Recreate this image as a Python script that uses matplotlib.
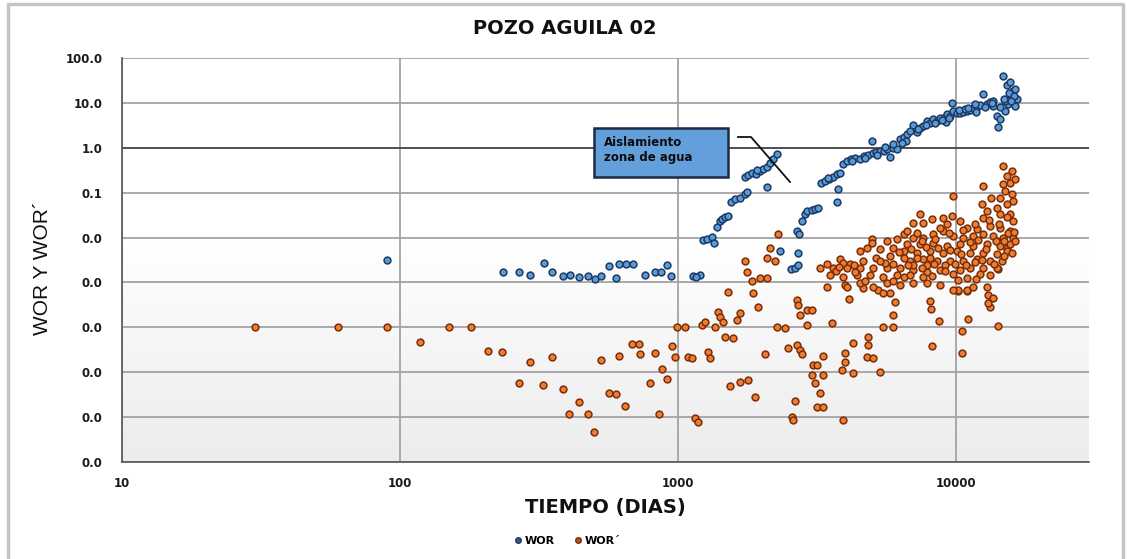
import numpy as np
import matplotlib.pyplot as plt
from matplotlib.patches import Rectangle
from matplotlib.lines import Line2D
from matplotlib.ticker import FixedLocator, FuncFormatter, NullLocator
from matplotlib.colors import LinearSegmentedColormap

# WOR - relacion agua/petroleo
wor_dias = [90, 235, 268, 294, 330, 352, 386, 409, 441, 475, 503, 529, 565, 599, 614,
            651, 689, 761, 827, 869, 914, 945, 1132, 1200, 1160,
            1230, 1270, 1325, 1350, 1380, 1415, 1440, 1475, 1513, 1550, 1600, 1670, 1740,
            1770, 1740, 1786, 1846, 1900, 1970, 2020, 2090, 2140, 2200, 2270, 2090, 1925,
            2330, 2703, 2550, 2620, 2703,
            2680, 2725, 2795, 2860, 2910, 3035, 3110, 3190, 3270, 3380, 3495, 3600, 3735,
            3830, 3760, 3735,
            3924, 4056, 4193, 4335, 4518, 4670, 4828, 4990, 5030, 5160,
            5333, 5510, 5650, 5793, 5940, 6140, 6293, 6460, 6670, 6840,
            7010, 7245, 7428, 7615, 7873, 8070, 8274, 8552, 8767, 9070,
            9290, 9524, 9680, 9760, 10080, 10340, 10600, 10950, 11230, 11510,
            11900, 12200, 12510, 12930, 13260, 13590, 14040, 14160, 14400, 14760,
            15010, 15260, 15380, 15640, 15640, 16000, 16300, 16550, 15900, 15010,
            14400, 16300,
            5560, 6570, 9200, 10780, 11700, 13590,
            5200, 5900, 6400, 7300, 7800, 8400, 8900, 9400, 10200, 11000,
            11800, 12700, 13400, 14800, 15500, 16100, 15700, 4200, 4700, 3450]
wor = [0.0031, 0.00175, 0.00167, 0.0015, 0.00278, 0.00167, 0.00136, 0.00143, 0.00129,
       0.00136, 0.00117, 0.00136, 0.00227, 0.00123, 0.00264, 0.00264, 0.00264, 0.0015,
       0.00175, 0.00167, 0.00239, 0.00136, 0.00136, 0.00143, 0.00129,
       0.0086, 0.0095, 0.0105, 0.0077, 0.0175, 0.0239, 0.0264, 0.0293, 0.0308, 0.0631,
       0.0736, 0.0774, 0.095, 0.105, 0.227, 0.251, 0.278, 0.264, 0.308, 0.341, 0.378,
       0.464, 0.570, 0.736, 0.136, 0.324,
       0.0049, 0.0046, 0.00204, 0.00215, 0.00239,
       0.0143, 0.0117, 0.0239, 0.0341, 0.0398, 0.0419, 0.0441, 0.0464, 0.167, 0.185,
       0.2045, 0.227, 0.264, 0.278, 0.1227, 0.0631,
       0.441, 0.514, 0.57, 0.599, 0.57, 0.664, 0.699, 1.43, 0.774, 0.815,
       0.858, 0.858, 0.95, 0.631, 1.0, 0.95, 1.585, 1.754, 2.045, 2.39,
       3.25, 2.27, 2.79, 3.09, 3.98, 3.59, 4.41, 3.98, 4.65, 4.89,
       5.70, 5.15, 10.0, 6.64, 5.99, 5.99, 6.31, 6.64, 6.99, 7.74,
       8.15, 9.03, 15.8, 9.5, 10.5, 11.1, 5.14, 2.93, 4.41, 39.8,
       6.64, 25.1, 9.5, 29.3, 15.8, 18.5, 20.5, 12.3, 13.5, 11.0,
       8.15, 8.6,
       1.05, 1.43, 3.8, 7.3, 9.5, 8.6,
       0.70, 1.2, 1.25, 2.6, 3.2, 3.5, 4.2, 4.6, 6.8, 7.8,
       6.4, 8.0, 9.8, 12.5, 17.0, 14.5, 10.8, 0.52, 0.60, 0.21]

# WOR' (derivada) - puntos dispersos
wor_p_disperso = [
    (30, 1e-4), (60, 1e-4), (90, 1e-4), (150, 1e-4), (180, 1e-4),
    (118, 4.64e-5), (207, 2.93e-5), (233, 2.78e-5), (294, 1.67e-5), (352, 2.15e-5),
    (268, 5.7e-6), (327, 5.14e-6), (386, 4.19e-6), (441, 2.15e-6), (406, 1.17e-6),
    (475, 1.17e-6), (499, 4.64e-7),
    (529, 1.85e-5), (565, 3.41e-6), (599, 3.24e-6), (646, 1.75e-6), (614, 2.27e-5),
    (684, 4.19e-5), (720, 4.19e-5), (731, 2.51e-5), (827, 2.64e-5),
    (877, 1.17e-5), (794, 5.7e-6), (914, 6.99e-6), (855, 1.17e-6), (952, 3.78e-5),
    (975, 2.15e-5), (990, 1e-4),
    (1060, 1e-4), (1086, 2.15e-5), (1123, 2.04e-5), (1220, 1.11e-4), (1250, 1.29e-4),
    (1282, 2.78e-5), (1305, 2.04e-5), (1360, 1e-4), (1393, 2.15e-4), (1416, 1.67e-4),
    (1452, 1.29e-4), (1476, 5.99e-5), (1577, 5.7e-5),
    (1539, 4.89e-6), (1671, 5.99e-6), (1786, 6.64e-6), (1890, 2.78e-6), (1151, 9.5e-7),
    (1180, 7.74e-7),
    (1513, 5.99e-4), (1630, 1.43e-4), (1671, 2.05e-4), (1742, 3.08e-3), (1770, 1.75e-3),
    (1846, 1.05e-3), (1862, 5.7e-4), (1940, 2.78e-4), (1972, 1.23e-3), (2090, 1.23e-3),
    (2140, 5.99e-3), (2090, 3.59e-3), (2230, 3.08e-3), (2290, 1.23e-2),
    (2055, 2.51e-5), (2270, 1e-4), (2425, 9.5e-5), (2488, 3.41e-5), (2680, 3.98e-5),
    (2745, 3.08e-5), (2795, 2.51e-5), (2635, 2.27e-6), (2570, 1e-6), (2590, 8.6e-7),
    (2680, 3.98e-4), (2700, 3.08e-4), (2745, 1.85e-4), (2910, 2.39e-4), (3035, 2.39e-4),
    (2910, 1.11e-4), (3060, 1.43e-5), (3160, 1.43e-5), (3035, 8.58e-6), (3325, 8.58e-6),
    (3110, 5.7e-6), (3240, 3.41e-6), (3160, 1.67e-6), (3325, 1.67e-6), (3325, 2.27e-5),
    (3570, 1.23e-4),
    (3240, 2.15e-3), (3430, 2.64e-3), (3600, 2.15e-3), (3830, 3.41e-3), (3924, 2.78e-3),
    (3990, 2.64e-5), (3990, 1.67e-5), (3890, 1.11e-5), (4264, 4.41e-5), (4264, 9.5e-6),
    (3924, 8.58e-7), (4124, 4.19e-4), (3990, 8.58e-4), (3520, 1.43e-3),
    (4828, 5.99e-5), (4828, 3.98e-5), (4790, 2.15e-5), (5030, 2.04e-5), (5333, 1e-5),
    (4630, 7.36e-4), (5245, 6.64e-4), (5470, 5.7e-4), (5793, 5.7e-4), (6040, 3.59e-4),
    (5940, 1.85e-4), (5470, 1e-4), (5940, 1e-4),
    (8070, 3.78e-4), (8140, 2.51e-4), (8690, 1.36e-4), (8200, 3.78e-5), (10170, 6.31e-4),
    (10950, 6.31e-4), (11040, 1.51e-4), (10500, 8.15e-5), (10500, 2.64e-5),
    (12930, 7.74e-4), (13040, 5.14e-4), (13590, 4.41e-4), (13260, 2.78e-4),
    (14160, 1.05e-4), (14160, 1.95e-3), (15260, 5.99e-3),
]

# WOR' (derivada) - nube densa despues de ~4000 dias
wor_p_denso = [
    (14760, 0.398), (15260, 0.239), (15640, 0.167), (14760, 0.158), (12510, 0.143),
    (9760, 0.0858), (15900, 0.095), (14400, 0.0774), (12400, 0.057), (15260, 0.057),
    (16000, 0.0664), (12930, 0.0398), (14400, 0.0341), (15640, 0.0341), (16000, 0.0239),
    (12510, 0.0278), (7430, 0.0341), (7615, 0.0215), (7010, 0.0215), (8200, 0.0264),
    (8990, 0.0278), (9680, 0.0308), (10340, 0.0239), (9290, 0.0204), (10950, 0.0167),
    (11900, 0.0158), (13260, 0.0185), (14400, 0.0167), (15640, 0.0143), (16000, 0.01),
    (14760, 0.01), (13590, 0.0111), (12510, 0.0123), (11510, 0.0111), (10600, 0.01),
    (9760, 0.0111), (8990, 0.0143), (8274, 0.0123), (7615, 0.01), (7010, 0.01),
    (6460, 0.0123), (6670, 0.00736), (7430, 0.00736), (8274, 0.00774), (9290, 0.00664),
    (10340, 0.00736), (11510, 0.00664), (12930, 0.00736), (14400, 0.00664),
    (15640, 0.00736), (15260, 0.00514), (14040, 0.00441), (12510, 0.00464),
    (11230, 0.00464), (10080, 0.00514), (8990, 0.00464), (8070, 0.00514), (7245, 0.00464),
    (6460, 0.00514), (6840, 0.00308), (7615, 0.00341), (8552, 0.00308), (9524, 0.00308),
    (10600, 0.00308), (11900, 0.00341), (13260, 0.00308), (14560, 0.00308),
    (14040, 0.00205), (12510, 0.00215), (11230, 0.00205), (10340, 0.00185),
    (9760, 0.00158), (8767, 0.00185), (7873, 0.00167), (7010, 0.00185), (6460, 0.00129),
    (7615, 0.00129), (8767, 0.000858), (10170, 0.00111), (10950, 0.00123),
    (12200, 0.00158), (13260, 0.00143), (10170, 0.000664), (10950, 0.000664),
    (13040, 0.000341),
    (6670, 0.0143), (7245, 0.0129), (8767, 0.0167), (6140, 0.0095), (5650, 0.00858),
    (4990, 0.0095), (4990, 0.00774), (4790, 0.00599), (4518, 0.00514), (5333, 0.0057),
    (5940, 0.00599), (4160, 0.00264), (4630, 0.00308), (5160, 0.00359), (5793, 0.00398),
    (6460, 0.00359), (7245, 0.00359), (8070, 0.00359), (4056, 0.00205), (4518, 0.00215),
    (5030, 0.00215), (5650, 0.00215), (6293, 0.00215), (7010, 0.00239), (7873, 0.00239),
    (3924, 0.00129), (4400, 0.00143), (4900, 0.00143), (5470, 0.00129), (6140, 0.00143),
    (6840, 0.00143), (3430, 0.000774), (4056, 0.000774), (4518, 0.00095),
    (5030, 0.000774), (5650, 0.00095), (6293, 0.000858), (7010, 0.00095),
    (7873, 0.00095), (11510, 0.000774), (9760, 0.000664), (5560, 0.00278),
    (4335, 0.00167),
    (6900, 0.0055), (7800, 0.0062), (8600, 0.0058), (9500, 0.0054), (10400, 0.0042),
    (11200, 0.0078), (12000, 0.0088), (12800, 0.0055), (13900, 0.0085), (14900, 0.0082),
    (15400, 0.0125), (14200, 0.0205), (13100, 0.0245), (11700, 0.0205), (10600, 0.0145),
    (9400, 0.0125), (8400, 0.0095), (7500, 0.0082), (6200, 0.0048), (5300, 0.0030),
    (5900, 0.0026), (6700, 0.0025), (7500, 0.0021), (8300, 0.0026), (9100, 0.0024),
    (9900, 0.0026), (10800, 0.0025), (11700, 0.0028), (12400, 0.0032), (13700, 0.0026),
    (14900, 0.0038), (15800, 0.0045), (16200, 0.0085), (16100, 0.013), (15200, 0.028),
    (14000, 0.045), (13300, 0.075), (15000, 0.11), (15800, 0.3), (16200, 0.2),
    (9100, 0.0018), (8200, 0.0014), (11800, 0.0012), (4700, 0.0011), (5900, 0.0011),
    (3700, 0.0018), (4300, 0.0024), (3800, 0.0022),
]

x_ticks = [10, 100, 1000, 10000]
y_ticks = [1e-7, 1e-6, 1e-5, 1e-4, 1e-3, 1e-2, 1e-1, 1, 10, 100]

W, H = 1129, 559


def fx(px):
    return px / W


def fy(py):
    return 1 - py / H


fig = plt.figure(figsize=(W / 100, H / 100), dpi=100)
rect = [fx(122), fy(462), fx(1089) - fx(122), fy(58) - fy(462)]

# fondo degradado del area de trazado
bg = fig.add_axes(rect, zorder=0)
cmap = LinearSegmentedColormap.from_list('fondo', ['#ececec', '#ffffff'])
grad = np.clip(np.linspace(0, 1, 256) / 0.55, 0, 1)[:, None]
bg.imshow(grad, cmap=cmap, aspect='auto', origin='lower', extent=[0, 1, 0, 1], vmin=0, vmax=1)
bg.set_axis_off()

ax = fig.add_axes(rect, zorder=1)
ax.set_facecolor('none')
ax.set_xscale('log')
ax.set_yscale('log')
ax.set_xlim(10, 30000)
ax.set_ylim(1e-7, 100)

ax.xaxis.set_major_locator(FixedLocator(x_ticks))
ax.yaxis.set_major_locator(FixedLocator(y_ticks))
ax.xaxis.set_minor_locator(NullLocator())
ax.yaxis.set_minor_locator(NullLocator())
ax.xaxis.set_major_formatter(FuncFormatter(lambda v, p: f'{v:.0f}'))
ax.yaxis.set_major_formatter(FuncFormatter(lambda v, p: f'{v:.1f}'))
ax.tick_params(length=0, labelsize=8.5, pad=14)
ax.tick_params(axis='x', pad=11)
for lbl in ax.get_xticklabels() + ax.get_yticklabels():
    lbl.set_fontweight('bold')
    lbl.set_color('#1a1a1a')

ax.grid(True, color='#a3a3a3', lw=1.3)
ax.axhline(1, color='#4a4a4a', lw=1.3, zorder=1.5)
ax.set_axisbelow(True)
for side in ['top', 'right']:
    ax.spines[side].set_visible(False)
for side in ['left', 'bottom']:
    ax.spines[side].set_color('#555555')
    ax.spines[side].set_linewidth(1.2)

wp = np.array(wor_p_disperso + wor_p_denso).T

ax.scatter(wor_dias, wor, s=24, facecolor='#5b9bd5', edgecolor='#1c3a66', lw=1.1, zorder=3)
ax.scatter(wp[0], wp[1], s=24, facecolor='#ed7d31', edgecolor='#7a2e08', lw=1.1, zorder=3)

fig.text(0.5, fy(28), 'POZO AGUILA 02', ha='center', va='center', fontsize=14,
         fontweight='bold', color='#111111')
fig.text(fx(605), fy(508), 'TIEMPO (DIAS)', ha='center', va='center', fontsize=14,
         fontweight='bold', color='#111111')
fig.text(fx(43), fy(268), 'WOR Y WOR´', ha='center', va='center', rotation=90,
         fontsize=15, family='Liberation Sans', color='#111111')

handles = [
    Line2D([], [], ls='none', marker='o', ms=4, mfc='#2e5c8f', mec='#1c3a66', label='WOR'),
    Line2D([], [], ls='none', marker='o', ms=4, mfc='#b5531c', mec='#7a2e08', label='WOR´'),
]
fig.legend(handles=handles, loc='center', bbox_to_anchor=(fx(566), fy(541)), ncol=2,
           frameon=False, prop={'size': 8, 'weight': 'bold'}, handletextpad=0.1,
           columnspacing=1.6, handlelength=1.0)

# recuadro de nota
fig.add_artist(Rectangle((fx(594), fy(177)), (728 - 594) / W, (177 - 128) / H,
                         transform=fig.transFigure, facecolor='#63a0db',
                         edgecolor='#1b2a48', lw=1.8, zorder=5))
fig.text(fx(604), fy(150), 'Aislamiento\nzona de agua', ha='left', va='center',
         fontsize=8.5, fontweight='bold', color='#0d0d0d', linespacing=1.25, zorder=6)
fig.add_artist(Line2D([fx(738), fx(751), fx(790)], [fy(137), fy(137), fy(182)],
                      transform=fig.transFigure, color='#111111', lw=1.3, zorder=5))

# marco exterior
fig.add_artist(Line2D([fx(8), fx(8), fx(1123), fx(1123)], [0, fy(4), fy(4), 0],
                      transform=fig.transFigure, color='#c4c4c4', lw=2.5, zorder=0))

fig.savefig('out.png', dpi=100)
